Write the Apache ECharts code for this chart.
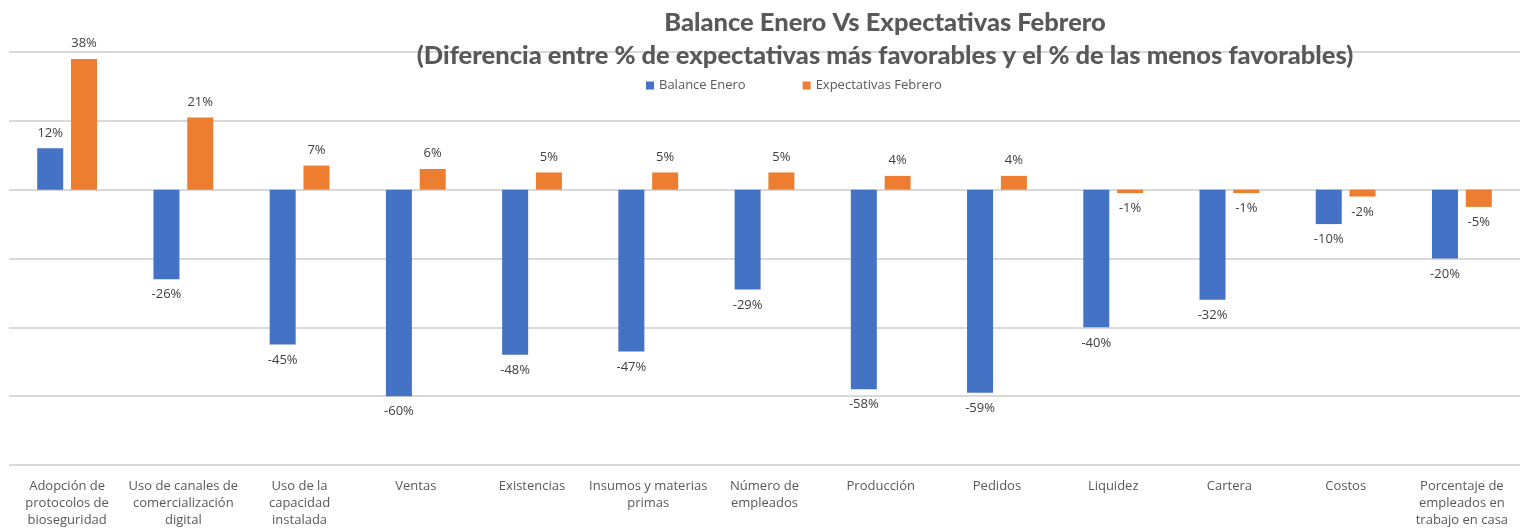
<!DOCTYPE html>
<html>
<head>
<meta charset="utf-8">
<script src="https://cdn.jsdelivr.net/npm/echarts@6/dist/echarts.min.js"></script>
<style>
  html, body { margin: 0; padding: 0; background: #fff; }
  #chart { width: 1525px; height: 529px; }
</style>
</head>
<body>
<div id="chart"></div>
<script>
// categorias del eje x
var categories = [
  'Adopción de\nprotocolos de\nbioseguridad',
  'Uso de canales de\ncomercialización\ndigital',
  'Uso de la\ncapacidad\ninstalada',
  'Ventas',
  'Existencias',
  'Insumos y materias\nprimas',
  'Número de\nempleados',
  'Producción',
  'Pedidos',
  'Liquidez',
  'Cartera',
  'Costos',
  'Porcentaje de\nempleados en\ntrabajo en casa'
]
var balanceEnero = [12, -26, -45, -60, -48, -47, -29, -58, -59, -40, -32, -10, -20]
var expectativasFebrero = [38, 21, 7, 6, 5, 5, 5, 4, 4, -1, -1, -2, -5]

var labelStyle = {
  show: true,
  position: 'outside',
  distance: 9,
  color: '#404040',
  fontSize: 13,
  fontFamily: 'Open Sans',
  formatter: function(p) { return p.value + '%' }
}

var option = {
  animation: false,
  title: {
    text: 'Balance Enero Vs Expectativas Febrero\n(Diferencia entre % de expectativas más favorables y el % de las menos favorables)',
    left: 880,
    textAlign: 'center',
    top: 1,
    textStyle: {
      color: '#595959',
      fontFamily: 'Lato',
      fontWeight: 900,
      fontSize: 25.5,
      lineHeight: 33
    }
  },
  legend: {
    top: 74,
    left: 641,
    itemWidth: 8,
    itemHeight: 8,
    itemGap: 57,
    icon: 'rect',
    textStyle: { color: '#595959', fontSize: 13, fontFamily: 'Open Sans' },
    data: ['Balance Enero', 'Expectativas Febrero']
  },
  grid: {
    left: 9,
    right: 5,
    top: 52,
    bottom: 59,
    containLabel: false
  },
  xAxis: {
    type: 'category',
    data: categories,
    position: 'bottom',
    axisLine: { show: false, onZero: false },
    axisTick: { show: false },
    axisLabel: {
      interval: 0,
      margin: 13,
      color: '#595959',
      fontSize: 13,
      fontFamily: 'Open Sans',
      lineHeight: 17
    }
  },
  yAxis: {
    type: 'value',
    min: -80,
    max: 40,
    interval: 20,
    axisLine: { show: false },
    axisTick: { show: false },
    axisLabel: { show: false },
    splitLine: { lineStyle: { color: '#d9d9d9', width: 2 } }
  },
  series: [
    {
      name: 'Balance Enero',
      type: 'bar',
      data: balanceEnero,
      barWidth: 26,
      barGap: '30%',
      itemStyle: { color: '#4472c4' },
      label: labelStyle
    },
    {
      name: 'Expectativas Febrero',
      type: 'bar',
      data: expectativasFebrero,
      barWidth: 26,
      itemStyle: { color: '#ed7d31' },
      label: labelStyle
    }
  ]
}

var myChart = echarts.init(document.getElementById('chart'))
myChart.setOption(option)
</script>
</body>
</html>
